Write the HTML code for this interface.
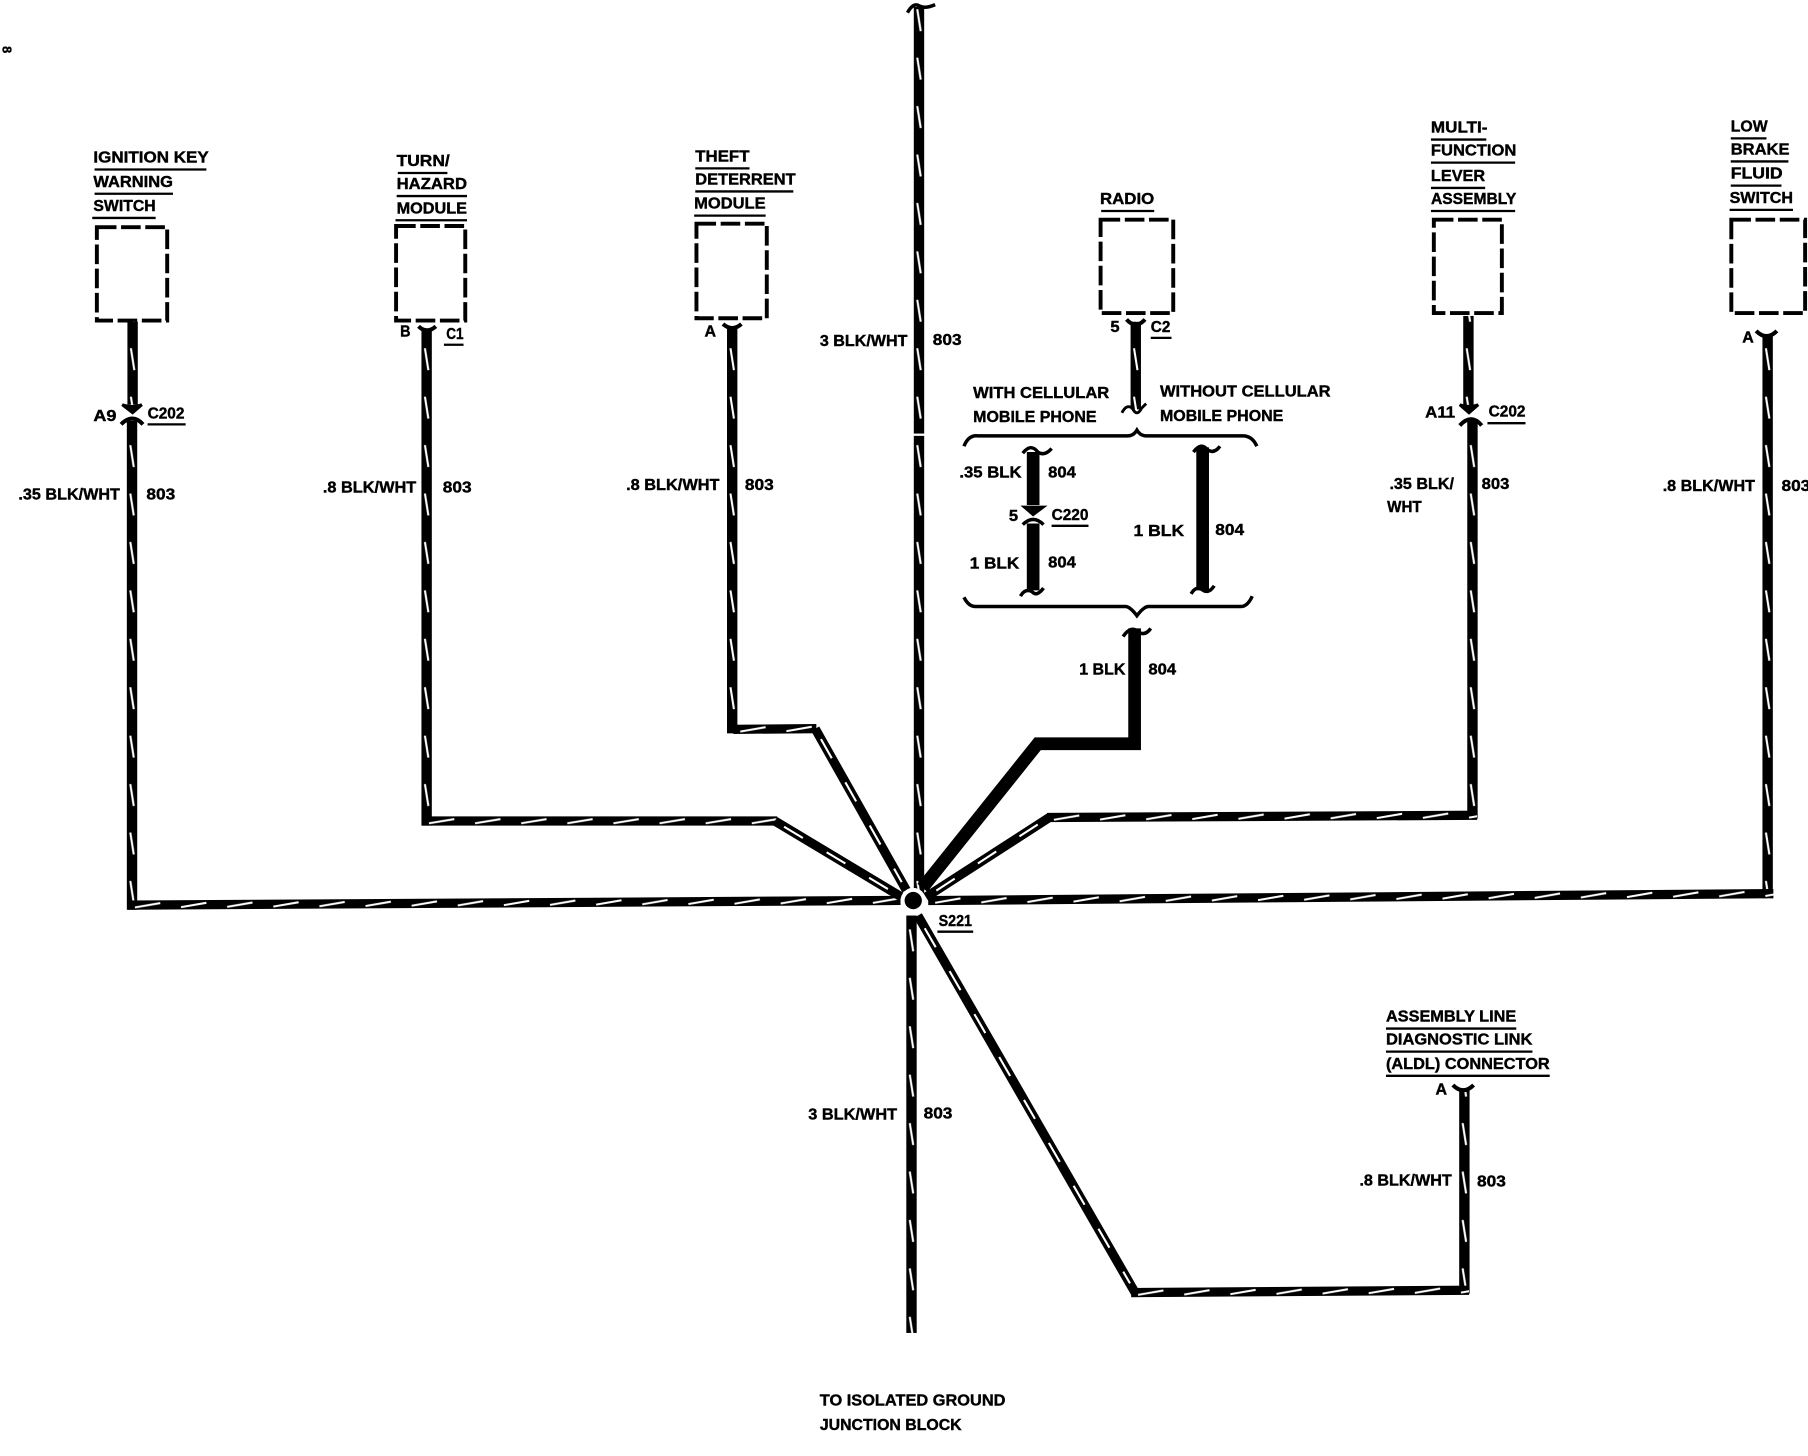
<!DOCTYPE html>
<html><head><meta charset="utf-8"><style>
html,body{margin:0;padding:0;background:#fff;width:1808px;height:1456px;overflow:hidden}
svg{display:block}
text{font-family:"Liberation Sans",sans-serif;font-weight:bold;font-size:14px;fill:#000;stroke:#000;stroke-width:.35}
.u{stroke:#000;stroke-width:2;fill:none}
.w{stroke:#000;fill:none;stroke-linejoin:miter}
.d{stroke:#fff;stroke-width:1.8;fill:none;stroke-dasharray:19 24}
.b{stroke:#000;stroke-width:3.4;fill:#fff;stroke-dasharray:17 4}
</style></head><body>
<svg width="1808" height="1456" viewBox="0 0 1568 1262.7" xmlns="http://www.w3.org/2000/svg">
<defs>
<pattern id="v" patternUnits="userSpaceOnUse" x="-4.5" y="0" width="9" height="42"><rect x="0" y="0" width="9" height="42" fill="#000"/><path d="M3 8L6 27" stroke="#fff" stroke-width="1.8"/></pattern>
<pattern id="h" patternUnits="userSpaceOnUse" x="0" y="-4" width="40" height="8"><rect x="0" y="0" width="40" height="8" fill="#000"/><path d="M6 6L28 2.400" stroke="#fff" stroke-width="1.8"/></pattern>
</defs>
<text transform="translate(2,40) rotate(90)" style="font-size:11px">8</text>

<!-- boxes -->
<rect class="b" x="84" y="197" width="61" height="81"/>
<rect class="b" x="343.500" y="196" width="60" height="82"/>
<rect class="b" x="604" y="194" width="61" height="82"/>
<rect class="b" x="954.500" y="190.500" width="63" height="81"/>
<rect class="b" x="1243.500" y="190.500" width="59" height="81"/>
<rect class="b" x="1501.500" y="190.500" width="64" height="81"/>

<!-- vertical wires -->
<rect transform="translate(797,0)" x="-4.500" y="6" width="9" height="770" fill="url(#v)"/>
<rect x="791" y="376" width="12" height="2" fill="#fff"/>
<rect transform="translate(115,0)" x="-4.500" y="279" width="9" height="72" fill="url(#v)"/>
<rect transform="translate(114.500,0)" x="-4.500" y="365" width="9" height="424" fill="url(#v)"/>
<rect transform="translate(370,0)" x="-4.500" y="286" width="9" height="430" fill="url(#v)"/>
<rect transform="translate(635,0)" x="-4.500" y="283" width="9" height="353" fill="url(#v)"/>
<rect transform="translate(985,0)" x="-4.500" y="279" width="9" height="76" fill="url(#v)"/>
<rect transform="translate(1273.500,0)" x="-4.500" y="274" width="9" height="78" fill="url(#v)"/>
<rect transform="translate(1277,0)" x="-4.500" y="365" width="9" height="345" fill="url(#v)"/>
<rect transform="translate(1533,0)" x="-4.500" y="291" width="9" height="488" fill="url(#v)"/>
<rect transform="translate(790.500,0)" x="-4.500" y="794" width="9" height="362" fill="url(#v)"/>
<rect transform="translate(1270,0)" x="-4.500" y="945" width="9" height="177" fill="url(#v)"/>

<!-- horizontals -->
<rect transform="translate(111,785) rotate(-.35)" x="0" y="-4" width="670" height="8" fill="url(#h)"/>
<rect transform="translate(805,781) rotate(-.47)" x="0" y="-4" width="733" height="8" fill="url(#h)"/>
<rect transform="translate(366,712)" x="0" y="-4" width="308" height="8" fill="url(#h)"/>
<rect transform="translate(636,632.500) rotate(-.5)" x="0" y="-4" width="72" height="8" fill="url(#h)"/>
<rect transform="translate(908,709) rotate(-.3)" x="0" y="-4" width="373" height="8" fill="url(#h)"/>
<rect transform="translate(981,1121) rotate(-.4)" x="0" y="-4" width="293" height="8" fill="url(#h)"/>

<!-- diagonals -->
<path class="w" stroke-width="8" d="M672 712L782 778"/><path class="d" d="M680 717L775 774"/>
<path class="w" stroke-width="8" d="M707 632L786 772"/><path class="d" d="M712 641L782 765"/>
<path class="w" stroke-width="8" d="M910 709L803 778"/><path class="d" d="M900 715L808 775"/>
<path class="w" stroke-width="8" d="M796 794L985 1122"/><path class="d" d="M802 805L980 1113"/>
<path class="w" stroke-width="11" d="M984 545V645H900L800 770"/>

<!-- splice -->
<circle cx="792" cy="781" r="11" fill="#fff"/>
<circle cx="792" cy="781" r="7.500" fill="#000"/>

<!-- wire ends & connectors -->
<path class="u" d="M787 11Q792 2 797 5Q802 8 811 4" style="stroke-width:3"/>
<path d="M106 351Q115 354 123 351L115 358Z" fill="#000" stroke="#000" stroke-width="2.500"/>
<path d="M105 368Q115 358 124 368" fill="none" stroke="#000" stroke-width="3.5"/>
<path d="M363 283Q370 290 378 283" fill="none" stroke="#000" stroke-width="3.5"/>
<path d="M627 281Q635 288 643 281" fill="none" stroke="#000" stroke-width="3.5"/>
<path d="M977 277Q985 286 993 277" fill="none" stroke="#000" stroke-width="3.5"/>
<path d="M973 358Q977 350 982 354Q986 362 990 354Q992 352 994 350" fill="none" stroke="#000" stroke-width="2.500"/>
<path d="M1266 351Q1274 354 1282 351L1274 358Z" fill="#000" stroke="#000" stroke-width="2.500"/>
<path d="M1266 369Q1276 358 1285 369" fill="none" stroke="#000" stroke-width="3.5"/>
<path d="M1523 287Q1532 296 1541 287" fill="none" stroke="#000" stroke-width="3.5"/>
<path d="M1260 941Q1269 950 1278 941" fill="none" stroke="#000" stroke-width="3.5"/>

<!-- 804 wires -->
<path d="M896 392V438" stroke="#000" stroke-width="11"/>
<path d="M887 393Q894 384 900 392Q906 396 912 389" fill="none" stroke="#000" stroke-width="3"/>
<path d="M889 440L896 446L904 440Z" fill="#000" stroke="#000" stroke-width="3"/>
<path d="M887 455Q896 446 905 455" fill="none" stroke="#000" stroke-width="3"/>
<path d="M896 454V512" stroke="#000" stroke-width="11"/>
<path d="M885 517Q889 510 895 513Q899 518 905 510" fill="none" stroke="#000" stroke-width="3"/>
<path d="M1043 388V512" stroke="#000" stroke-width="11"/>
<path d="M1035 392Q1042 383 1047 390Q1053 394 1058 387" fill="none" stroke="#000" stroke-width="3"/>
<path d="M1033 515Q1037 508 1042 511Q1048 516 1053 508" fill="none" stroke="#000" stroke-width="3"/>
<path d="M974 552Q981 542 987 548Q993 552 998 545" fill="none" stroke="#000" stroke-width="3"/>

<!-- braces -->
<path d="M836 387Q840 377 848 378H978Q983 378 986 373Q989 378 994 378H1078Q1086 378 1090 387" fill="none" stroke="#000" stroke-width="3"/>
<path d="M836 518Q840 526 846 526H976Q980 526 986 534Q992 526 996 526H1076Q1082 526 1086 517" fill="none" stroke="#000" stroke-width="3"/>

<!-- titles -->
<text x="81" y="141" textLength="100" lengthAdjust="spacingAndGlyphs">IGNITION KEY</text><path class="u" d="M82 147H179"/>
<text x="81" y="162" textLength="69" lengthAdjust="spacingAndGlyphs">WARNING</text><path class="u" d="M82 168H150"/>
<text x="81" y="183" textLength="54" lengthAdjust="spacingAndGlyphs">SWITCH</text><path class="u" d="M80 189H135"/>
<text x="344" y="144" textLength="46" lengthAdjust="spacingAndGlyphs">TURN/</text><path class="u" d="M345 150H388"/>
<text x="344" y="164" textLength="61" lengthAdjust="spacingAndGlyphs">HAZARD</text><path class="u" d="M344 170H405"/>
<text x="344" y="185" textLength="61" lengthAdjust="spacingAndGlyphs">MODULE</text><path class="u" d="M343 191H405"/>
<text x="603" y="140" textLength="47" lengthAdjust="spacingAndGlyphs">THEFT</text><path class="u" d="M603 146H650"/>
<text x="603" y="160" textLength="87" lengthAdjust="spacingAndGlyphs">DETERRENT</text><path class="u" d="M603 166H688"/>
<text x="602" y="181" textLength="62" lengthAdjust="spacingAndGlyphs">MODULE</text><path class="u" d="M602 187H664"/>
<text x="954" y="177" textLength="47" lengthAdjust="spacingAndGlyphs">RADIO</text><path class="u" d="M955 183H1001"/>
<text x="1241" y="115" textLength="49" lengthAdjust="spacingAndGlyphs">MULTI-</text><path class="u" d="M1241 121H1289"/>
<text x="1241" y="135" textLength="74" lengthAdjust="spacingAndGlyphs">FUNCTION</text><path class="u" d="M1241 141H1314"/>
<text x="1241" y="157" textLength="47" lengthAdjust="spacingAndGlyphs">LEVER</text><path class="u" d="M1241 163H1288"/>
<text x="1241" y="177" textLength="74" lengthAdjust="spacingAndGlyphs">ASSEMBLY</text><path class="u" d="M1241 183H1314"/>
<text x="1501" y="114" textLength="32" lengthAdjust="spacingAndGlyphs">LOW</text><path class="u" d="M1501 120H1532"/>
<text x="1501" y="134" textLength="51" lengthAdjust="spacingAndGlyphs">BRAKE</text><path class="u" d="M1501 140H1551"/>
<text x="1501" y="155" textLength="45" lengthAdjust="spacingAndGlyphs">FLUID</text><path class="u" d="M1501 161H1545"/>
<text x="1500" y="176" textLength="55" lengthAdjust="spacingAndGlyphs">SWITCH</text><path class="u" d="M1500 182H1555"/>
<text x="1202" y="886" textLength="113" lengthAdjust="spacingAndGlyphs">ASSEMBLY LINE</text><path class="u" d="M1202 892H1315"/>
<text x="1202" y="906" textLength="127" lengthAdjust="spacingAndGlyphs">DIAGNOSTIC LINK</text><path class="u" d="M1202 912H1329"/>
<text x="1202" y="927" textLength="142" lengthAdjust="spacingAndGlyphs">(ALDL) CONNECTOR</text><path class="u" d="M1202 933H1344"/>
<text x="711" y="1219" textLength="161" lengthAdjust="spacingAndGlyphs">TO ISOLATED GROUND</text>
<text x="711" y="1240" textLength="123" lengthAdjust="spacingAndGlyphs">JUNCTION BLOCK</text>
<text x="844" y="345" textLength="118" lengthAdjust="spacingAndGlyphs">WITH CELLULAR</text>
<text x="844" y="366" textLength="107" lengthAdjust="spacingAndGlyphs">MOBILE PHONE</text>
<text x="1006" y="344" textLength="148" lengthAdjust="spacingAndGlyphs">WITHOUT CELLULAR</text>
<text x="1006" y="365" textLength="107" lengthAdjust="spacingAndGlyphs">MOBILE PHONE</text>

<!-- connector labels -->
<text x="81" y="365" textLength="20" lengthAdjust="spacingAndGlyphs">A9</text>
<text x="128" y="363" textLength="32" lengthAdjust="spacingAndGlyphs">C202</text><path class="u" d="M128 368H161"/>
<text x="347" y="292" textLength="9" lengthAdjust="spacingAndGlyphs">B</text>
<text x="387" y="294" textLength="15" lengthAdjust="spacingAndGlyphs">C1</text><path class="u" d="M385 299H402"/>
<text x="611" y="292" textLength="10" lengthAdjust="spacingAndGlyphs">A</text>
<text x="963" y="288" textLength="8" lengthAdjust="spacingAndGlyphs">5</text>
<text x="998" y="288" textLength="17" lengthAdjust="spacingAndGlyphs">C2</text><path class="u" d="M998 293H1016"/>
<text x="1236" y="362" textLength="26" lengthAdjust="spacingAndGlyphs">A11</text>
<text x="1291" y="361" textLength="32" lengthAdjust="spacingAndGlyphs">C202</text><path class="u" d="M1290 367H1323"/>
<text x="1511" y="297" textLength="10" lengthAdjust="spacingAndGlyphs">A</text>
<text x="875" y="452" textLength="8" lengthAdjust="spacingAndGlyphs">5</text>
<text x="912" y="451" textLength="32" lengthAdjust="spacingAndGlyphs">C220</text><path class="u" d="M912 456H944"/>
<text x="814" y="803" textLength="29" lengthAdjust="spacingAndGlyphs">S221</text><path class="u" d="M813 808H844"/>
<text x="1245" y="949" textLength="10" lengthAdjust="spacingAndGlyphs">A</text>

<!-- wire labels -->
<text x="16" y="433" textLength="88" lengthAdjust="spacingAndGlyphs">.35 BLK/WHT</text>
<text x="127" y="433" textLength="25" lengthAdjust="spacingAndGlyphs">803</text>
<text x="280" y="427" textLength="81" lengthAdjust="spacingAndGlyphs">.8 BLK/WHT</text>
<text x="384" y="427" textLength="25" lengthAdjust="spacingAndGlyphs">803</text>
<text x="543" y="425" textLength="81" lengthAdjust="spacingAndGlyphs">.8 BLK/WHT</text>
<text x="646" y="425" textLength="25" lengthAdjust="spacingAndGlyphs">803</text>
<text x="711" y="300" textLength="76" lengthAdjust="spacingAndGlyphs">3 BLK/WHT</text>
<text x="809" y="299" textLength="25" lengthAdjust="spacingAndGlyphs">803</text>
<text x="832" y="414" textLength="54" lengthAdjust="spacingAndGlyphs">.35 BLK</text>
<text x="909" y="414" textLength="24" lengthAdjust="spacingAndGlyphs">804</text>
<text x="841" y="493" textLength="43" lengthAdjust="spacingAndGlyphs">1 BLK</text>
<text x="909" y="492" textLength="24" lengthAdjust="spacingAndGlyphs">804</text>
<text x="983" y="465" textLength="44" lengthAdjust="spacingAndGlyphs">1 BLK</text>
<text x="1054" y="464" textLength="25" lengthAdjust="spacingAndGlyphs">804</text>
<text x="936" y="585" textLength="40" lengthAdjust="spacingAndGlyphs">1 BLK</text>
<text x="996" y="585" textLength="24" lengthAdjust="spacingAndGlyphs">804</text>
<text x="1205" y="424" textLength="56" lengthAdjust="spacingAndGlyphs">.35 BLK/</text>
<text x="1203" y="444" textLength="30" lengthAdjust="spacingAndGlyphs">WHT</text>
<text x="1285" y="424" textLength="24" lengthAdjust="spacingAndGlyphs">803</text>
<text x="1442" y="426" textLength="80" lengthAdjust="spacingAndGlyphs">.8 BLK/WHT</text>
<text x="1545" y="426" textLength="25" lengthAdjust="spacingAndGlyphs">803</text>
<text x="701" y="971" textLength="77" lengthAdjust="spacingAndGlyphs">3 BLK/WHT</text>
<text x="801" y="970" textLength="25" lengthAdjust="spacingAndGlyphs">803</text>
<text x="1179" y="1028" textLength="80" lengthAdjust="spacingAndGlyphs">.8 BLK/WHT</text>
<text x="1281" y="1029" textLength="25" lengthAdjust="spacingAndGlyphs">803</text>
</svg>
</body></html>
